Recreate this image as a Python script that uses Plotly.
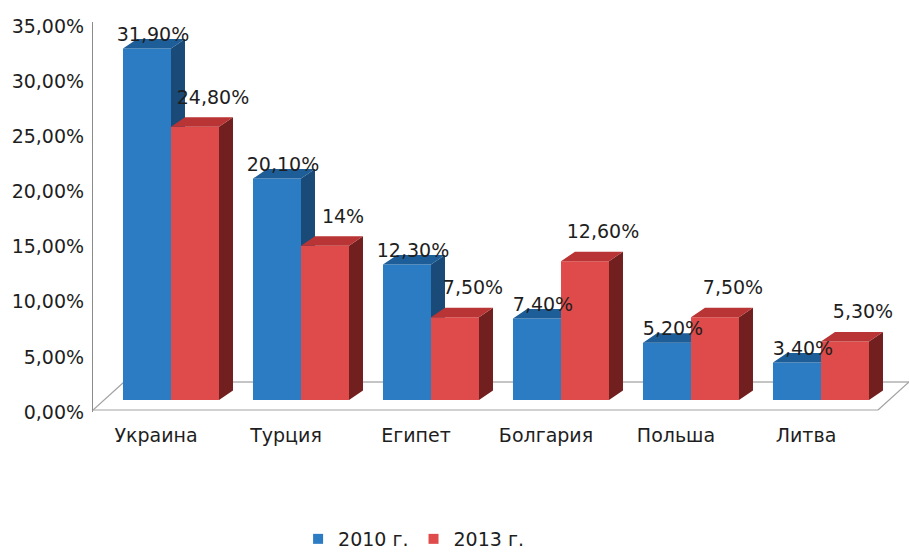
import plotly.graph_objects as go

# ---------------- data ----------------
categories = ["Украина", "Турция", "Египет", "Болгария", "Польша", "Литва"]
series_names = ["2010 г.", "2013 г."]
values_2010 = [31.9, 20.1, 12.3, 7.4, 5.2, 3.4]
values_2013 = [24.8, 14.0, 7.5, 12.6, 7.5, 5.3]
y_ticks = [0, 5, 10, 15, 20, 25, 30, 35]

# ---------------- style / geometry ----------------
FONT = "DejaVu Sans"
TXT = "#1e1e1e"
FS = 19
X_RANGE = [-0.6, 5.677]
Y_RANGE = [0, 35.4]
PX_X = 816 / (X_RANGE[1] - X_RANGE[0])
PX_Y = 390 / (Y_RANGE[1] - Y_RANGE[0])

BASE = 12 / PX_Y          # front face sits a little below the back axis plane
W = 48 / PX_X             # bar width
DX = 14 / PX_X            # depth offset (x)
DY = 9.5 / PX_Y           # depth offset (y)

colors = {
    "2010 г.": dict(front="#2b7cc3", top="#1e5e98", side="#194a78"),
    "2013 г.": dict(front="#df4b4b", top="#b93535", side="#72201f"),
}
label_off = {  # pixel offsets of data labels from the front-top centre
    "2010 г.": (6, 12),
    "2013 g.": (18, 28),
}
label_off["2013 г."] = label_off.pop("2013 g.")


def fmt_pct(v):
    return f"{v:.2f}".replace(".", ",") + "%"


def fmt_label(v):
    if float(v).is_integer():
        return f"{int(v)}%"
    return f"{v:.2f}".replace(".", ",") + "%"


fig = go.Figure()

# floor outline (decorative frame)
floor_front_y = 2 / PX_Y
floor_back_y = 30 / PX_Y
floor_dx = 31 / PX_X
floor_front_right = X_RANGE[1] - floor_dx
line_style = dict(color="#a3a3a3", width=1.2)
fig.add_shape(type="line", x0=X_RANGE[0], x1=floor_front_right, y0=floor_front_y, y1=floor_front_y,
              line=line_style, layer="below")
fig.add_shape(type="line", x0=X_RANGE[0] + floor_dx, x1=X_RANGE[1], y0=floor_back_y, y1=floor_back_y,
              line=dict(color="#8a8a8a", width=1.2), layer="below")
fig.add_shape(type="line", x0=X_RANGE[0], x1=X_RANGE[0] + floor_dx, y0=floor_front_y, y1=floor_back_y,
              line=line_style, layer="below")
fig.add_shape(type="line", x0=floor_front_right, x1=X_RANGE[1], y0=floor_front_y, y1=floor_back_y,
              line=line_style, layer="below")


def poly_trace(polys, color):
    xs, ys = [], []
    for p in polys:
        for (x, y) in p:
            xs.append(x)
            ys.append(y)
        xs.append(p[0][0])
        ys.append(p[0][1])
        xs.append(None)
        ys.append(None)
    return go.Scatter(x=xs, y=ys, mode="lines", fill="toself", fillcolor=color,
                      line=dict(width=0, color=color), hoverinfo="skip", showlegend=False)


for k, (name, vals) in enumerate(zip(series_names, [values_2010, values_2013])):
    fronts, sides, tops = [], [], []
    for i, v in enumerate(vals):
        xl = i - W if k == 0 else i
        xr = xl + W
        y0 = BASE
        y1 = BASE + v
        fronts.append([(xl, y0), (xr, y0), (xr, y1), (xl, y1)])
        sides.append([(xr, y0), (xr + DX, y0 + DY), (xr + DX, y1 + DY), (xr, y1)])
        tops.append([(xl, y1), (xr, y1), (xr + DX, y1 + DY), (xl + DX, y1 + DY)])
    c = colors[name]
    fig.add_trace(poly_trace(fronts, c["front"]))
    fig.add_trace(poly_trace(sides, c["side"]))
    fig.add_trace(poly_trace(tops, c["top"]))

# data labels
for k, (name, vals) in enumerate(zip(series_names, [values_2010, values_2013])):
    ox, oy = label_off[name]
    xs = [(i - W / 2 if k == 0 else i + W / 2) + ox / PX_X for i in range(len(vals))]
    ys = [BASE + v + oy / PX_Y for v in vals]
    fig.add_trace(go.Scatter(x=xs, y=ys, mode="text", text=[fmt_label(v) for v in vals],
                             textposition="middle center", cliponaxis=False,
                             textfont=dict(family=FONT, size=FS, color=TXT),
                             hoverinfo="skip", showlegend=False))

# legend entries
for name in series_names:
    fig.add_trace(go.Scatter(x=[None], y=[None], mode="markers", name=name,
                             marker=dict(symbol="square", size=10, color=colors[name]["front"])))

fig.update_layout(
    width=909, height=558,
    margin=dict(l=93, r=0, t=22, b=146, autoexpand=False),
    paper_bgcolor="white", plot_bgcolor="white",
    font=dict(family=FONT, size=FS, color=TXT),
    showlegend=True,
    legend=dict(orientation="h", xref="container", yref="container", x=0.455, y=0,
                xanchor="center", yanchor="bottom", font=dict(family=FONT, size=FS, color=TXT),
                itemwidth=30, tracegroupgap=0, bgcolor="rgba(0,0,0,0)"),
    xaxis=dict(range=X_RANGE, showgrid=False, zeroline=False, showline=False, automargin=False,
               tickvals=[i - 15 / PX_X for i in range(len(categories))], ticktext=categories,
               ticks="", ticklabelstandoff=10, tickfont=dict(family=FONT, size=FS, color=TXT)),
    yaxis=dict(range=Y_RANGE, showgrid=False, zeroline=False, showline=True, automargin=False,
               linecolor="#8c8c8c", linewidth=1.2,
               tickvals=y_ticks, ticktext=[fmt_pct(v) for v in y_ticks], ticks="",
               ticklabelstandoff=4, tickfont=dict(family=FONT, size=FS, color=TXT)),
)

fig.write_html("out.html", config={"displayModeBar": False},
               post_script="document.body.style.margin='0';")
